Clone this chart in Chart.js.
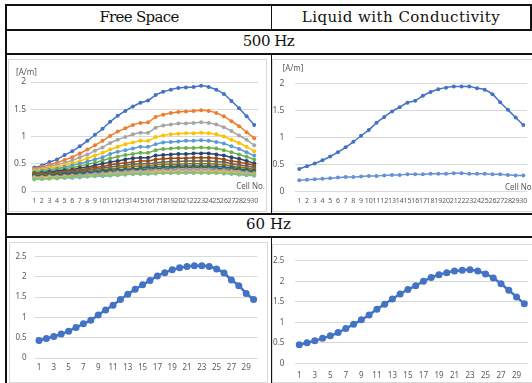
<!DOCTYPE html>
<html>
<head>
<meta charset="utf-8">
<script src="https://cdn.jsdelivr.net/npm/chart.js@4.4.1/dist/chart.umd.min.js"></script>
<style>
  html, body { margin: 0; padding: 0; background: #fff; }
  body { width: 532px; height: 383px; overflow: hidden; position: relative; }
  .rule { position: absolute; background: #111; }
  .head { position: absolute; text-align: center; font-family: "DejaVu Serif", serif; font-size: 15px; color: #111; }
  .box { position: absolute; border: 1px solid #d9d9d9; background: #fff; }
  canvas { display: block; }
</style>
</head>
<body>

<div class="rule" style="left:6px;top:4px;width:526px;height:2px"></div>
<div class="rule" style="left:6px;top:29px;width:526px;height:2px"></div>
<div class="rule" style="left:6px;top:53px;width:526px;height:2px"></div>
<div class="rule" style="left:6px;top:213px;width:526px;height:2px"></div>
<div class="rule" style="left:6px;top:236px;width:526px;height:2px"></div>
<div class="rule" style="left:5px;top:4px;width:2px;height:379px"></div>
<div class="rule" style="left:530px;top:4px;width:2px;height:27px"></div>
<div class="rule" style="left:271px;top:5px;width:1px;height:25px"></div>
<div class="rule" style="left:271px;top:54px;width:1px;height:160px"></div>
<div class="rule" style="left:271px;top:237px;width:1px;height:146px"></div>

<div class="head" style="left:7px;top:8px;width:264px;letter-spacing:-0.7px">Free Space</div>
<div class="head" style="left:272px;top:8px;width:258px;letter-spacing:0.45px">Liquid with Conductivity</div>
<div class="head" style="left:7px;top:32px;width:523px;letter-spacing:-0.5px">500 Hz</div>
<div class="head" style="left:7px;top:215px;width:523px">60 Hz</div>

<div class="box" style="left:8px;top:59px"><canvas id="fs500" width="257" height="151"></canvas></div>
<div class="box" style="left:272px;top:59px"><canvas id="lq500" width="262" height="151"></canvas></div>
<div class="box" style="left:9px;top:242px"><canvas id="fs60" width="257" height="139"></canvas></div>
<div class="box" style="left:272px;top:244px"><canvas id="lq60" width="262" height="137"></canvas></div>

<script>
// cell numbers along the x axis
const cells = ['1','2','3','4','5','6','7','8','9','10','11','12','13','14','15',
  '16','17','18','19','20','21','22','23','24','25','26','27','28','29','30'];
const yTicks500 = [0, 0.5, 1, 1.5, 2];
const yTicks60 = [0, 0.5, 1, 1.5, 2, 2.5];

// 500 Hz, free space: one curve per measuring line [A/m]
const fs01 = [0.43,0.47,0.53,0.58,0.66,0.73,0.82,0.92,1.03,1.14,1.27,1.38,1.47,1.55,1.62,1.66,1.76,1.82,1.86,1.89,1.90,1.91,1.93,1.91,1.86,1.78,1.65,1.52,1.37,1.21];
const fs02 = [0.41,0.44,0.48,0.52,0.57,0.62,0.69,0.76,0.84,0.92,1.01,1.09,1.15,1.21,1.25,1.26,1.36,1.40,1.43,1.45,1.46,1.47,1.48,1.47,1.43,1.37,1.28,1.19,1.08,0.97];
const fs03 = [0.39,0.41,0.45,0.48,0.52,0.56,0.62,0.67,0.74,0.80,0.88,0.94,0.99,1.04,1.07,1.07,1.16,1.20,1.22,1.24,1.24,1.25,1.26,1.25,1.22,1.17,1.10,1.02,0.94,0.84];
const fs04 = [0.37,0.39,0.42,0.44,0.48,0.51,0.55,0.60,0.65,0.70,0.76,0.81,0.86,0.89,0.92,0.92,0.99,1.02,1.04,1.05,1.06,1.06,1.07,1.06,1.04,1.00,0.94,0.88,0.81,0.73];
const fs05 = [0.35,0.37,0.39,0.41,0.44,0.47,0.50,0.54,0.58,0.62,0.68,0.72,0.75,0.78,0.81,0.81,0.86,0.89,0.90,0.91,0.92,0.92,0.93,0.92,0.90,0.87,0.82,0.77,0.71,0.65];
const fs06 = [0.34,0.35,0.37,0.39,0.41,0.43,0.46,0.49,0.52,0.56,0.60,0.63,0.66,0.68,0.70,0.70,0.75,0.77,0.78,0.79,0.79,0.79,0.80,0.79,0.78,0.75,0.71,0.67,0.63,0.58];
const fs07 = [0.32,0.33,0.35,0.36,0.38,0.39,0.42,0.44,0.47,0.50,0.53,0.55,0.58,0.60,0.61,0.61,0.65,0.66,0.67,0.68,0.68,0.69,0.69,0.69,0.67,0.65,0.62,0.59,0.55,0.51];
const fs08 = [0.31,0.32,0.33,0.34,0.36,0.37,0.39,0.41,0.43,0.45,0.48,0.50,0.52,0.53,0.55,0.55,0.58,0.59,0.60,0.60,0.60,0.61,0.61,0.61,0.60,0.58,0.55,0.53,0.50,0.47];
const fs09 = [0.30,0.31,0.32,0.33,0.34,0.35,0.37,0.38,0.40,0.42,0.44,0.46,0.47,0.49,0.50,0.50,0.52,0.53,0.54,0.54,0.55,0.55,0.55,0.55,0.54,0.53,0.50,0.48,0.46,0.43];
const fs10 = [0.29,0.30,0.30,0.31,0.32,0.33,0.35,0.36,0.37,0.39,0.41,0.42,0.44,0.45,0.46,0.46,0.48,0.49,0.49,0.49,0.50,0.50,0.50,0.50,0.49,0.48,0.46,0.44,0.42,0.40];
const fs11 = [0.28,0.28,0.29,0.30,0.31,0.32,0.33,0.34,0.35,0.37,0.38,0.39,0.40,0.41,0.42,0.43,0.44,0.45,0.45,0.46,0.46,0.46,0.46,0.46,0.45,0.44,0.43,0.41,0.39,0.37];
const fs12 = [0.27,0.27,0.28,0.29,0.29,0.30,0.31,0.32,0.33,0.35,0.36,0.37,0.38,0.39,0.40,0.40,0.41,0.42,0.42,0.43,0.43,0.43,0.43,0.43,0.42,0.41,0.40,0.39,0.37,0.35];
const fs13 = [0.26,0.26,0.27,0.27,0.28,0.29,0.30,0.31,0.32,0.33,0.34,0.35,0.36,0.37,0.37,0.38,0.38,0.39,0.39,0.40,0.40,0.40,0.40,0.40,0.39,0.39,0.37,0.36,0.35,0.33];
const fs14 = [0.25,0.25,0.26,0.26,0.27,0.28,0.28,0.29,0.30,0.31,0.32,0.33,0.34,0.35,0.35,0.36,0.37,0.37,0.37,0.38,0.38,0.38,0.38,0.38,0.37,0.37,0.36,0.35,0.33,0.32];
const fs15 = [0.24,0.24,0.25,0.25,0.26,0.26,0.27,0.28,0.29,0.30,0.31,0.32,0.32,0.33,0.34,0.34,0.35,0.35,0.35,0.36,0.36,0.36,0.36,0.36,0.35,0.35,0.34,0.33,0.32,0.30];
const fs16 = [0.23,0.23,0.24,0.24,0.25,0.25,0.26,0.27,0.28,0.28,0.29,0.30,0.31,0.32,0.32,0.32,0.33,0.34,0.34,0.34,0.34,0.34,0.35,0.34,0.34,0.33,0.32,0.31,0.30,0.29];
const fs17 = [0.22,0.22,0.23,0.23,0.24,0.24,0.25,0.26,0.27,0.27,0.28,0.29,0.30,0.31,0.31,0.31,0.32,0.33,0.33,0.33,0.33,0.33,0.34,0.33,0.33,0.32,0.31,0.30,0.29,0.28];
const fs18 = [0.21,0.22,0.23,0.24,0.25,0.26,0.27,0.27,0.28,0.29,0.29,0.30,0.31,0.31,0.32,0.32,0.32,0.33,0.33,0.33,0.34,0.34,0.33,0.33,0.33,0.32,0.32,0.31,0.30,0.30];
const freeSeries = [fs01, fs02, fs03, fs04, fs05, fs06, fs07, fs08, fs09, fs10, fs11, fs12, fs13, fs14, fs15, fs16, fs17, fs18];

// 500 Hz, liquid
const lqHigh500 = [0.42,0.47,0.52,0.58,0.65,0.73,0.82,0.92,1.03,1.14,1.27,1.38,1.48,1.56,1.64,1.68,1.77,1.84,1.89,1.92,1.94,1.94,1.94,1.91,1.88,1.80,1.65,1.51,1.37,1.23];
const lqLow500 = [0.21,0.22,0.23,0.24,0.25,0.26,0.27,0.27,0.28,0.29,0.29,0.30,0.31,0.31,0.32,0.32,0.32,0.33,0.33,0.33,0.34,0.34,0.33,0.33,0.33,0.32,0.32,0.31,0.30,0.30];

// 60 Hz
const fs60 = [0.43,0.48,0.53,0.59,0.66,0.75,0.84,0.93,1.06,1.18,1.30,1.44,1.57,1.69,1.80,1.91,2.02,2.10,2.17,2.22,2.25,2.27,2.27,2.25,2.19,2.09,1.92,1.78,1.59,1.44];
const lq60 = [0.45,0.50,0.55,0.61,0.67,0.75,0.85,0.95,1.06,1.18,1.32,1.44,1.57,1.69,1.80,1.89,2.00,2.09,2.16,2.21,2.25,2.27,2.28,2.25,2.18,2.08,1.94,1.78,1.62,1.45];

const palette = ['#4472C4','#ED7D31','#A5A5A5','#FFC000','#5B9BD5','#70AD47','#264478','#9E480E','#636363',
  '#997300','#255E91','#43682B','#698ED0','#F1975A','#B7B7B7','#FFCD33','#7CAFDD','#8CC168'];

Chart.defaults.font.family = "'Noto Sans', sans-serif";
Chart.defaults.color = '#595959';

// little text notes ([A/m], Cell No.) placed in canvas pixels
const notesPlugin = {
  id: 'notes',
  afterDraw(chart, args, opts) {
    const ctx = chart.ctx;
    ctx.save();
    ctx.fillStyle = '#595959';
    ctx.textBaseline = 'middle';
    for (const n of opts.items || []) {
      ctx.font = n.size + "px 'Noto Sans', sans-serif";
      ctx.textAlign = n.align;
      ctx.fillText(n.text, n.x, n.y);
    }
    ctx.restore();
  }
};

function series(data, color, i, lw, pr) {
  return {
    data: data, borderColor: color, backgroundColor: color,
    pointBackgroundColor: color, pointBorderColor: color,
    borderWidth: lw, pointRadius: pr, pointBorderWidth: 0,
    tension: 0.3, order: 100 - i
  };
}

function lineChart(id, datasets, o) {
  return new Chart(document.getElementById(id), {
    type: 'line',
    data: { labels: cells, datasets: datasets },
    plugins: [notesPlugin],
    options: {
      responsive: false,
      animation: false,
      devicePixelRatio: 1,
      layout: { padding: { left: 0, right: o.padR, top: o.padT, bottom: 0 } },
      plugins: {
        legend: { display: false },
        tooltip: { enabled: false },
        notes: { items: o.notes }
      },
      scales: {
        x: {
          offset: true,
          grid: { display: false, drawTicks: false },
          border: { display: false },
          ticks: {
            autoSkip: false, maxRotation: 0, minRotation: 0,
            padding: o.xPad, font: { size: o.xFont },
            callback: (v, i) => (i % o.every === 0 ? cells[i] : '')
          },
          afterFit: s => { s.height = o.xH; }
        },
        y: {
          min: 0, max: o.yTicks[o.yTicks.length - 1],
          grid: { color: '#d9d9d9', drawTicks: false },
          border: { display: false },
          afterBuildTicks: s => { s.ticks = o.yTicks.map(v => ({ value: v })); },
          ticks: { padding: o.yPad, font: { size: o.yFont }, callback: v => String(v) },
          afterFit: s => { s.width = o.yW; }
        }
      }
    }
  });
}

lineChart('fs500', freeSeries.map((d, i) => series(d, palette[i], i, 1.5, 2)), {
  padR: 8, padT: 22, xH: 20, yW: 21.5, xPad: 5.5, yPad: 4.5, xFont: 7, yFont: 8.5, every: 1,
  yTicks: yTicks500,
  notes: [
    { text: '[A/m]', x: 7, y: 13, align: 'left', size: 8 },
    { text: 'Cell No.', x: 256, y: 127, align: 'right', size: 8 }
  ]
});

lineChart('lq500', [series(lqHigh500, '#4472C4', 0, 1.5, 2), series(lqLow500, '#6690D8', 1, 1.5, 2)], {
  padR: 7.8, padT: 23.3, xH: 19.3, yW: 22.4, xPad: 4.8, yPad: 11, xFont: 7, yFont: 8.5, every: 1,
  yTicks: yTicks500,
  notes: [
    { text: '[A/m]', x: 9.5, y: 9, align: 'left', size: 8 },
    { text: 'Cell No.', x: 232, y: 128, align: 'left', size: 8 }
  ]
});

lineChart('fs60', [series(fs60, '#4472C4', 0, 2.5, 3.5)], {
  padR: 9.7, padT: 11.3, xH: 24, yW: 25.3, xPad: 4.5, yPad: 8.6, xFont: 8, yFont: 8, every: 2,
  yTicks: yTicks60, notes: []
});

lineChart('lq60', [series(lq60, '#4472C4', 0, 2.5, 3.5)], {
  padR: 6.8, padT: 10, xH: 18.7, yW: 22.4, xPad: 7.9, yPad: 11, xFont: 8, yFont: 8, every: 2,
  yTicks: yTicks60, notes: []
});
</script>
</body>
</html>
